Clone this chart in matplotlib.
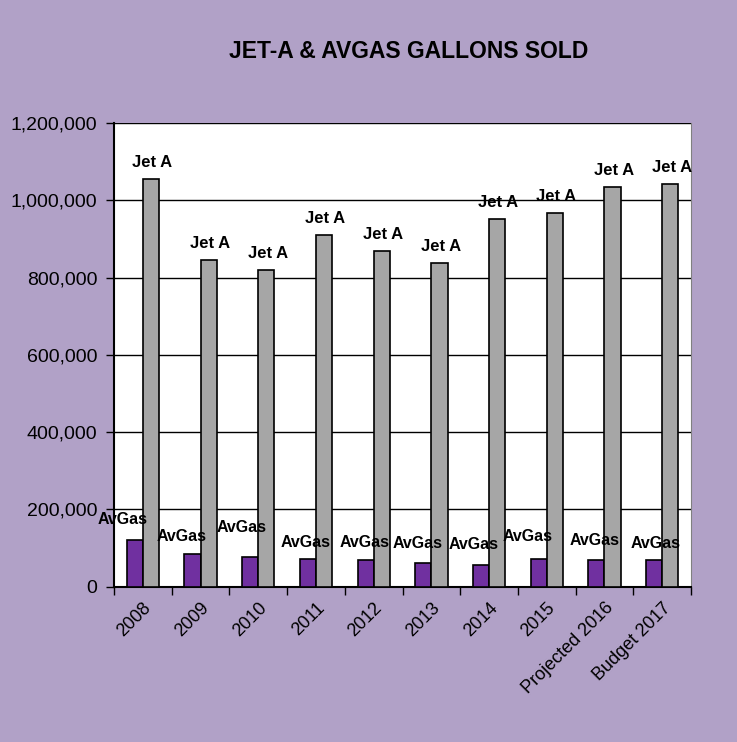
import matplotlib
matplotlib.use("Agg")
import matplotlib.pyplot as plt
import numpy as np
from matplotlib.ticker import FuncFormatter, MultipleLocator

categories = ["2008", "2009", "2010", "2011", "2012", "2013", "2014", "2015",
              "Projected 2016", "Budget 2017"]
avgas = [121000, 84000, 77000, 71000, 68000, 60500, 55000, 72000, 69000, 69000]
jet_a = [1054000, 845000, 819000, 909000, 869000, 837000, 951000, 967000, 1034000, 1043000]

# label offsets (points) for the AvGas labels, as placed in the original sheet
avgas_dx = [-9, -8, -6, -2, -1, -4, -5, -8, -1, 1]
avgas_dy = [15, 13, 21, 12, 13, 14, 15, 16, 14, 12]

BG = "#B1A1C7"
PURPLE = "#7030A0"
GREY = "#A6A6A6"

plt.rcParams["font.family"] = ["Liberation Sans", "DejaVu Sans"]

fig = plt.figure(figsize=(7.37, 7.42), dpi=100, facecolor=BG)
ax = fig.add_axes([0.1547, 0.2093, 0.7829, 0.6249])
ax.set_facecolor("white")

x = np.arange(len(categories))
w = 0.28
b1 = ax.bar(x - w / 2, avgas, w, color=PURPLE, edgecolor="black", linewidth=1.2, zorder=3)
b2 = ax.bar(x + w / 2, jet_a, w, color=GREY, edgecolor="black", linewidth=1.2, zorder=3)

for rect, dx, dy in zip(b1, avgas_dx, avgas_dy):
    ax.annotate("AvGas", (rect.get_x() + rect.get_width() / 2, rect.get_height()),
                xytext=(dx, dy), textcoords="offset points", ha="center", va="center",
                fontsize=11.5, fontweight="bold", zorder=4)
for rect in b2:
    ax.annotate("Jet A", (rect.get_x() + rect.get_width() / 2, rect.get_height()),
                xytext=(1, 12), textcoords="offset points", ha="center", va="center",
                fontsize=12, fontweight="bold", zorder=4)

ax.set_xlim(-0.5, len(categories) - 0.5)
ax.set_ylim(0, 1200000)
ax.yaxis.set_major_locator(MultipleLocator(200000))
ax.yaxis.set_major_formatter(FuncFormatter(lambda v, p: f"{int(v):,}"))
ax.grid(axis="y", color="black", linewidth=1, zorder=1)
ax.tick_params(axis="y", labelsize=14, length=6, width=1, direction="out", pad=6)

ax.set_xticks(x)
ax.set_xticklabels(categories, rotation=45, ha="right", rotation_mode="anchor", fontsize=13)
ax.tick_params(axis="x", which="major", length=0, pad=9)
ax.set_xticks(np.arange(-0.5, len(categories)), minor=True)
ax.tick_params(axis="x", which="minor", length=6, width=1, direction="out")

ax.spines["top"].set_visible(False)
ax.spines["right"].set_color("#808080")
ax.spines["left"].set_linewidth(1.5)
ax.spines["bottom"].set_linewidth(1.5)

fig.text(0.554, 0.93, "JET-A & AVGAS GALLONS SOLD", ha="center", va="center",
         fontsize=16.5, fontweight="bold")

fig.savefig("out.png", dpi=100, facecolor=BG)
